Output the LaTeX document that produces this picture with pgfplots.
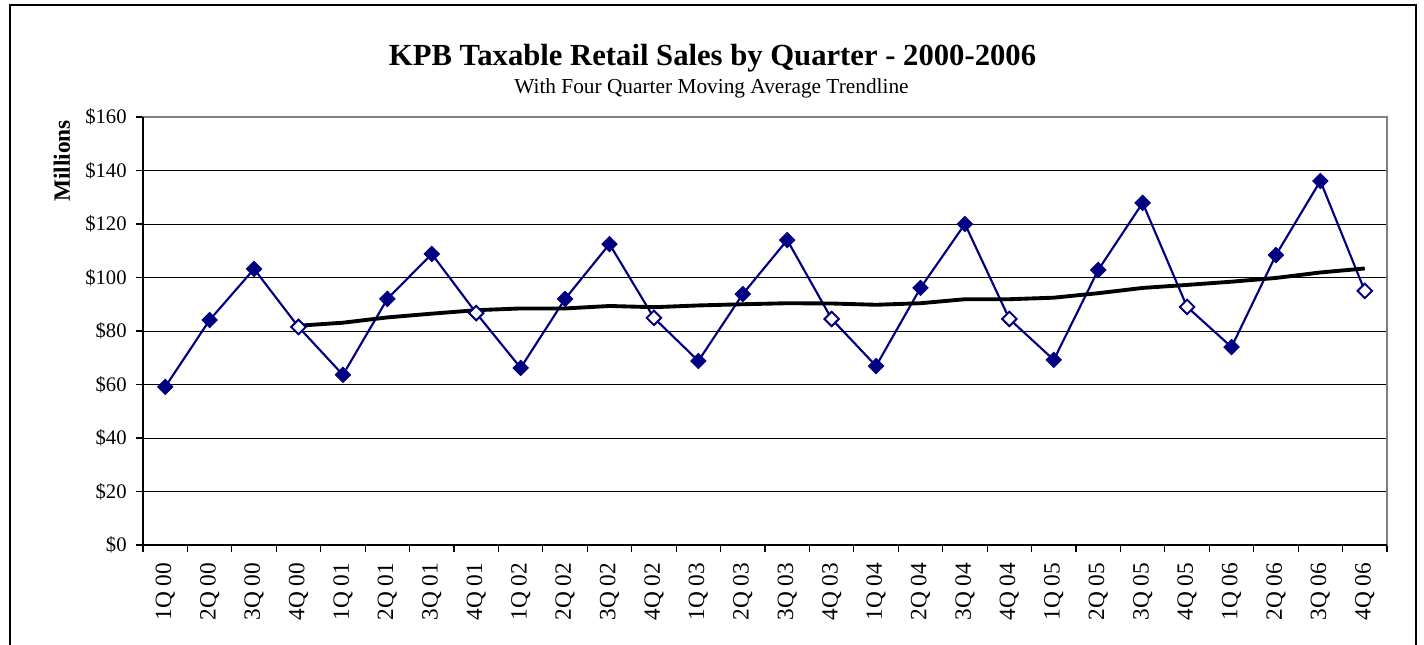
\documentclass[border=0pt]{standalone}
\usepackage{pgfplots}
\pgfplotsset{compat=1.18}
\usepackage{fontspec}
\setmainfont{Liberation Serif}
\definecolor{navy}{RGB}{0,0,128}
\begin{document}
\begin{tikzpicture}
\useasboundingbox (0pt,0pt) rectangle (1068pt,483.75pt);
\draw[line width=1.5pt] (7.5pt,0pt) -- (7.5pt,480pt) -- (1062pt,480pt) -- (1062pt,0pt);
\node[font=\fontsize{23}{27}\selectfont\bfseries, anchor=base] at (534.4pt,434.25pt) {KPB Taxable Retail Sales by Quarter - 2000-2006};
\node[font=\fontsize{16}{19}\selectfont, anchor=base] at (533.6pt,413.25pt) {With Four Quarter Moving Average Trendline};
\node[rotate=90, font=\fontsize{17.5}{20}\selectfont\bfseries] at (46.5pt,363pt) {Millions};
\begin{axis}[
  at={(107.25pt,75pt)}, anchor=south west,
  scale only axis, width=933pt, height=321pt,
  xmin=-0.5, xmax=27.5, ymin=0, ymax=160,
  axis line style={draw=gray, line width=1.5pt},
  ymajorgrids, grid style={black, line width=0.7pt},
  tick align=outside, major tick length=5.25pt,
  tick style={black, line width=0.9pt},
  xtick pos=left, ytick pos=left,
  ytick={0,20,...,160},
  yticklabels={\$0,\$20,\$40,\$60,\$80,\$100,\$120,\$140,\$160},
  xtick={-0.5,0.5,...,27.5},
  x tick label as interval=true,
  xticklabels={1Q 00,2Q 00,3Q 00,4Q 00,1Q 01,2Q 01,3Q 01,4Q 01,1Q 02,2Q 02,3Q 02,4Q 02,1Q 03,2Q 03,3Q 03,4Q 03,1Q 04,2Q 04,3Q 04,4Q 04,1Q 05,2Q 05,3Q 05,4Q 05,1Q 06,2Q 06,3Q 06,4Q 06},
  xticklabel style={rotate=90, anchor=east, font=\fontsize{17.5}{20}\selectfont},
  xticklabel shift=4.5pt,
  yticklabel style={font=\fontsize{15.5}{18}\selectfont},
  yticklabel shift=3.5pt,
  clip=false,
]
\addplot[navy, line width=1.6pt, mark=square*, mark size=4.1pt,
  mark options={rotate=45, solid, fill=navy, draw=navy, line width=0.6pt}]
coordinates {
(0,59.1) (1,84.1) (2,103.2) (3,81.5) (4,63.6) (5,92.0) (6,108.8) (7,86.7)
(8,66.2) (9,92.0) (10,112.5) (11,84.9) (12,68.8) (13,93.8) (14,114.0) (15,84.5)
(16,66.9) (17,96.1) (18,120.0) (19,84.5) (20,69.2) (21,102.8) (22,127.9) (23,89.0)
(24,74.0) (25,108.4) (26,136.1) (27,95.0)
};
\addplot[only marks, mark=square*, mark size=3.8pt,
  mark options={rotate=45, fill=white, draw=navy, line width=1.4pt}]
coordinates {
(3,81.5) (7,86.7) (11,84.9) (15,84.5) (19,84.5) (23,89.0) (27,95.0)
};
\addplot[black, line width=2.9pt] coordinates {
(3,81.98) (4,83.10) (5,85.08) (6,86.48) (7,87.78) (8,88.43) (9,88.43) (10,89.35)
(11,88.90) (12,89.55) (13,90.00) (14,90.38) (15,90.28) (16,89.80) (17,90.38) (18,91.88)
(19,91.88) (20,92.45) (21,94.13) (22,96.10) (23,97.23) (24,98.43) (25,99.83) (26,101.88)
(27,103.38)
};
\draw[black, line width=1.5pt] (rel axis cs:0,1) -- (rel axis cs:0,0) -- (rel axis cs:1,0);
\end{axis}
\end{tikzpicture}
\end{document}
